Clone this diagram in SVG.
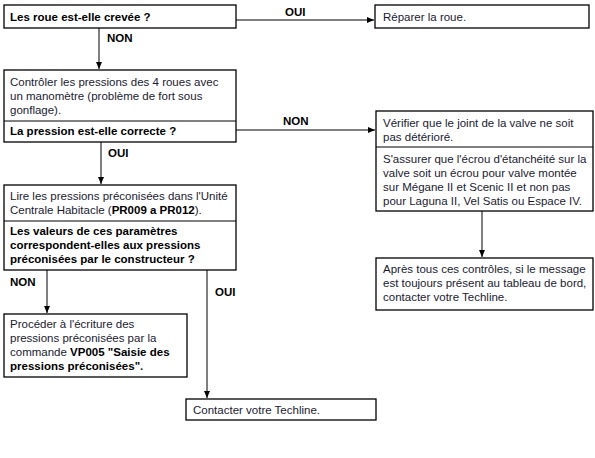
<svg xmlns="http://www.w3.org/2000/svg" width="595" height="458" viewBox="0 0 595 458">
<style>
.box{fill:#fff;stroke:#000;stroke-width:1.3}
.div{stroke:#000;stroke-width:1}
.t{font-family:"Liberation Sans",Arial,sans-serif;font-size:11.5px;fill:#1a1a30}
.b{font-family:"Liberation Sans",Arial,sans-serif;font-size:11.5px;font-weight:bold;fill:#000}
.c{stroke:#000;stroke-width:1;fill:none;marker-end:url(#ah)}
</style>
<defs>
<marker id="ah" markerWidth="7" markerHeight="7" refX="7" refY="3.5" orient="auto" markerUnits="userSpaceOnUse">
<path d="M0,0.5 L7,3.5 L0,6.5 Z" fill="#000"/>
</marker>
</defs>
<rect width="595" height="458" fill="#fff"/>
<g id="connectors">
<path class="c" d="M236,20 H374"/>
<path class="c" d="M99,28 V69"/>
<path class="c" d="M236,130 H375"/>
<path class="c" d="M101,142 V184"/>
<path class="c" d="M482,211 V257"/>
<path class="c" d="M47,270 V313"/>
<path class="c" d="M207,270 V398"/>
<text class="b" x="285" y="16">OUI</text>
<text class="b" x="107" y="42">NON</text>
<text class="b" x="283" y="125">NON</text>
<text class="b" x="108" y="157">OUI</text>
<text class="b" x="10" y="286">NON</text>
<text class="b" x="215" y="296">OUI</text>
</g>
<g id="n1">
<rect class="box" x="4" y="5" width="232" height="23"/>
<text class="b" x="10" y="21">Les roue est-elle crevée ?</text>
</g>
<g id="n2">
<rect class="box" x="375" y="5" width="214" height="23"/>
<text class="t" x="383" y="21">Réparer la roue.</text>
</g>
<g id="n3">
<rect class="box" x="4" y="70" width="232" height="72"/>
<line class="div" x1="4" y1="121" x2="236" y2="121"/>
<text class="t" x="10" y="86">Contrôler les pressions des 4 roues avec</text>
<text class="t" x="10" y="100">un manomètre (problème de fort sous</text>
<text class="t" x="10" y="114">gonflage).</text>
<text class="b" x="10" y="135">La pression est-elle correcte ?</text>
</g>
<g id="n4">
<rect class="box" x="376" y="111" width="217" height="100"/>
<line class="div" x1="376" y1="147" x2="593" y2="147"/>
<text class="t" x="383" y="127">Vérifier que le joint de la valve ne soit</text>
<text class="t" x="383" y="141">pas détérioré.</text>
<text class="t" x="383" y="163">S'assurer que l'écrou d'étanchéité sur la</text>
<text class="t" x="383" y="177">valve soit un écrou pour valve montée</text>
<text class="t" x="383" y="191">sur Mégane II et Scenic II et non pas</text>
<text class="t" x="383" y="205">pour Laguna II, Vel Satis ou Espace IV.</text>
</g>
<g id="n5">
<rect class="box" x="4" y="185" width="232" height="85"/>
<line class="div" x1="4" y1="221" x2="236" y2="221"/>
<text class="t" x="10" y="200">Lire les pressions préconisées dans l'Unité</text>
<text class="t" x="10" y="214">Centrale Habitacle (<tspan class="b">PR009 a PR012</tspan>).</text>
<text class="b" x="10" y="235">Les valeurs de ces paramètres</text>
<text class="b" x="10" y="249">correspondent-elles aux pressions</text>
<text class="b" x="10" y="263">préconisées par le constructeur ?</text>
</g>
<g id="n6">
<rect class="box" x="376" y="258" width="217" height="52"/>
<text class="t" x="383" y="273">Après tous ces contrôles, si le message</text>
<text class="t" x="383" y="287">est toujours présent au tableau de bord,</text>
<text class="t" x="383" y="301">contacter votre Techline.</text>
</g>
<g id="n7">
<rect class="box" x="4" y="314" width="183" height="63"/>
<text class="t" x="10" y="328">Procéder à l'écriture des</text>
<text class="t" x="10" y="342">pressions préconisées par la</text>
<text class="t" x="10" y="356">commande <tspan class="b">VP005 "Saisie des</tspan></text>
<text class="b" x="10" y="370">pressions préconisées"<tspan class="t">.</tspan></text>
</g>
<g id="n8">
<rect class="box" x="186" y="399" width="190" height="21"/>
<text class="t" x="193" y="414">Contacter votre Techline.</text>
</g>
</svg>
